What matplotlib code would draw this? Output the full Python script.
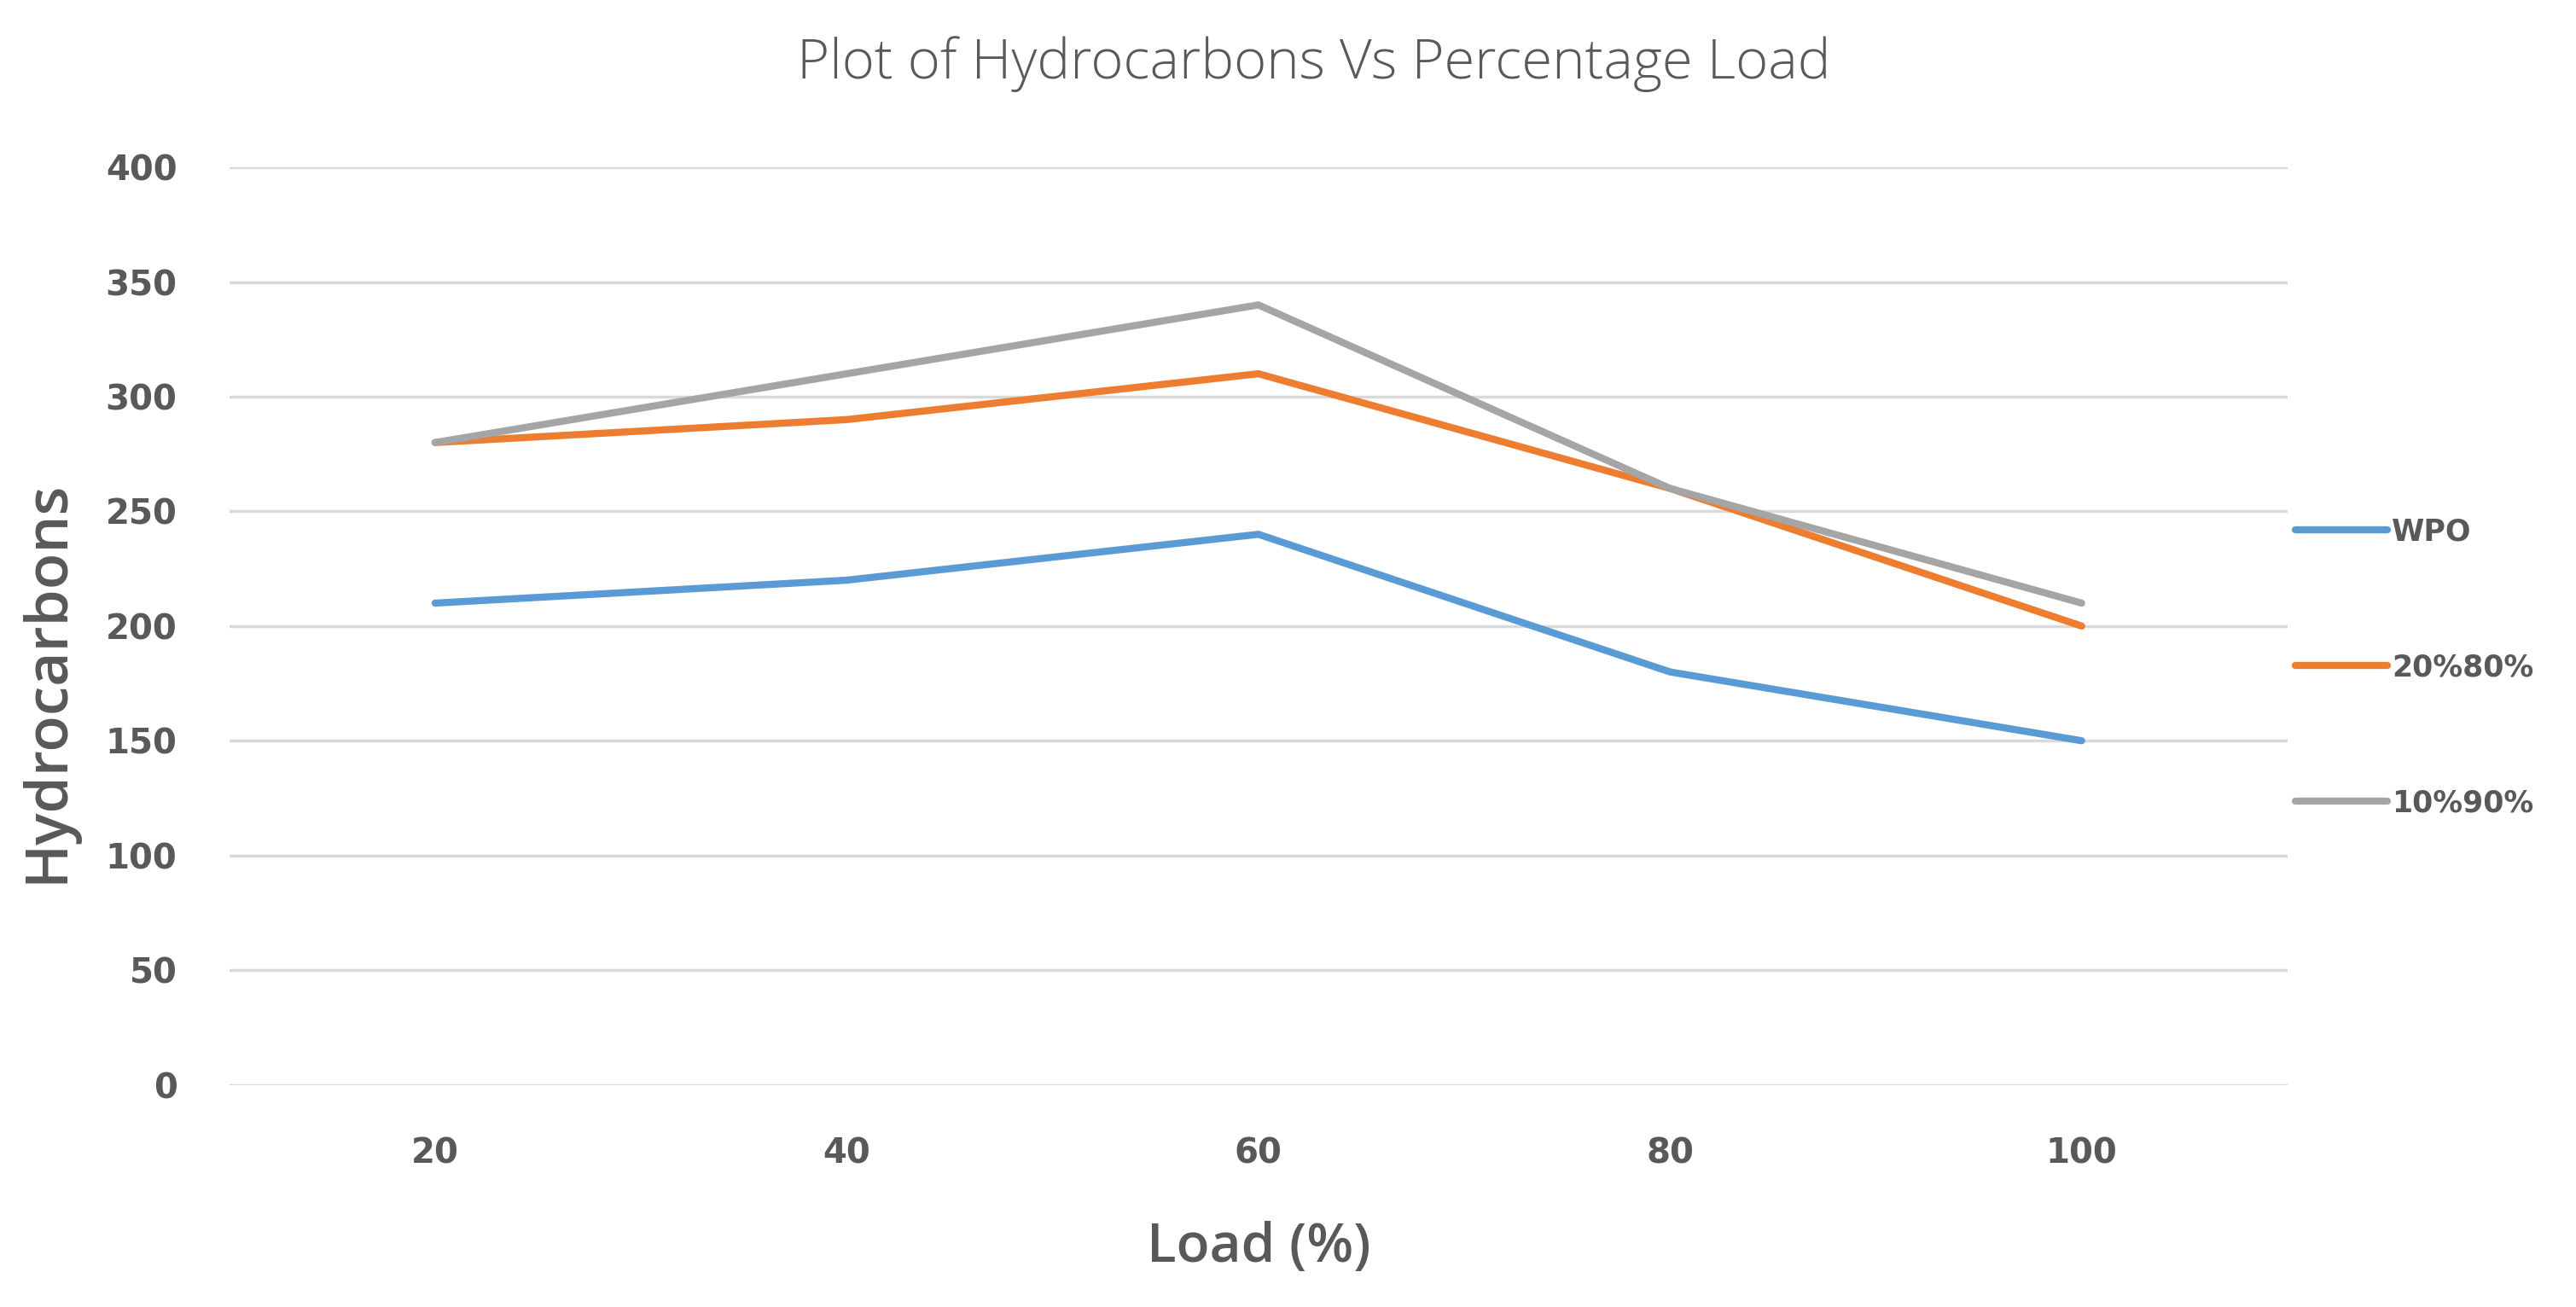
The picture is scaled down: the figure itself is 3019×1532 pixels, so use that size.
import matplotlib
matplotlib.use('agg')
import matplotlib.pyplot as plt

# data
loads = ['20', '40', '60', '80', '100']
wpo = [210, 220, 240, 180, 150]
blend_20_80 = [280, 290, 310, 260, 200]
blend_10_90 = [280, 310, 340, 260, 210]
series_names = ['WPO', '20%80%', '10%90%']
y_ticks = [0, 50, 100, 150, 200, 250, 300, 350, 400]

colors = ['#5B9BD5', '#ED7D31', '#A5A5A5']
text_col = '#595959'

fig = plt.figure(figsize=(30.19, 15.32), dpi=100)
ax = fig.add_axes([0.089, 0.170, 0.799, 0.702])

x = range(len(loads))
for vals, name, c in zip([wpo, blend_20_80, blend_10_90], series_names, colors):
    ax.plot(x, vals, color=c, linewidth=6, label=name, solid_capstyle='round')

ax.set_xlim(-0.5, len(loads) - 0.5)
ax.set_ylim(0, 400)
ax.set_yticks(y_ticks)
ax.set_xticks(list(x))
ax.set_xticklabels(loads)
ax.grid(axis='y', color='#D9D9D9', linewidth=2.5)
ax.set_axisbelow(True)
for s in ax.spines.values():
    s.set_visible(False)
ax.tick_params(length=0, labelsize=29, labelcolor=text_col)
ax.tick_params(axis='y', pad=44)
ax.tick_params(axis='x', pad=44)
for lab in ax.get_xticklabels() + ax.get_yticklabels():
    lab.set_fontweight('bold')

ax.set_title('Plot of Hydrocarbons Vs Percentage Load', fontsize=47, x=0.527,
             color=text_col, family='Open Sans', fontweight='light', pad=75)
ax.set_xlabel('Load (%)', fontsize=46, color=text_col, family='Open Sans',
              fontweight='semibold', labelpad=42)
ax.set_ylabel('Hydrocarbons', fontsize=50, color=text_col, family='Open Sans',
              fontweight='semibold')
ax.yaxis.set_label_coords(-0.074, 0.44)

leg = ax.legend(loc='center left', bbox_to_anchor=(0.998, 0.455), frameon=False,
                fontsize=25, handlelength=3.1, handletextpad=0.15,
                labelspacing=3.6, borderaxespad=0)
for t in leg.get_texts():
    t.set_color(text_col)
    t.set_fontweight('bold')

fig.savefig('out.png', dpi=100, facecolor='white')
